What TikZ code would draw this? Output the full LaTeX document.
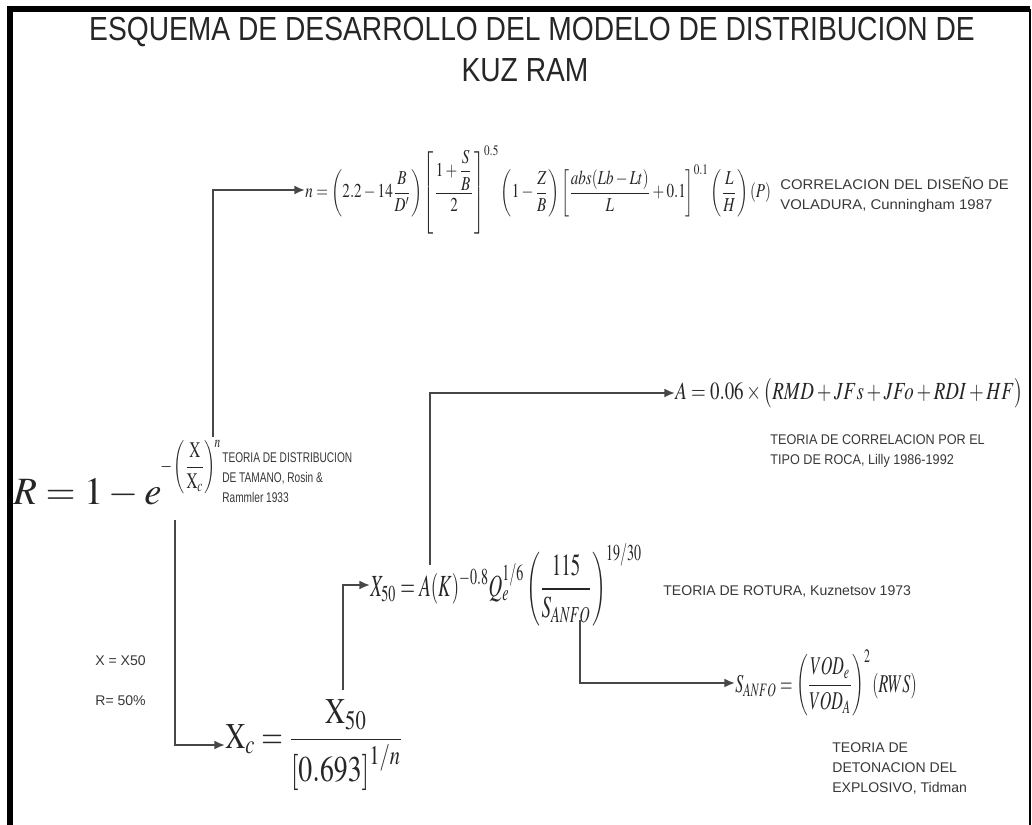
\documentclass[tikz,border=0pt]{standalone}
\usepackage{amsmath}
\usepackage{mathptmx}
\usepackage[no-math]{fontspec}
\setmainfont{Liberation Sans}
\usetikzlibrary{arrows.meta}
\newcommand{\lbltext}[2]{\scalebox{#1}[1]{\begin{tabular}{@{}l@{}}#2\end{tabular}}}
\begin{document}
\begin{tikzpicture}[x=0.02cm,y=-0.02cm,
  lbl/.style={font=\fontsize{8}{11.5}\selectfont, text=black!78, inner sep=0, anchor=north west},
  conn/.style={line width=1.1pt, draw=black!72},
  arr/.style={conn, -{Latex[length=6pt,width=5pt]}},
  eq/.style={inner sep=0, anchor=west, text=black!85},
  ttl/.style={inner sep=0, text=black!85, font=\fontsize{19}{19}\selectfont}]
\useasboundingbox (0,0) rectangle (1032,825);
\fill[white] (0,0) rectangle (1032,825);
% frame
\draw[line width=3pt] (10,825) -- (10,9) -- (1030,9);
\draw[line width=1.5pt] (1030,9) -- (1030,825);
% title
\node[ttl] (t1) at (532,32) {\scalebox{0.845}[1]{ESQUEMA DE DESARROLLO DEL MODELO DE DISTRIBUCION DE}};
\node[ttl] (t2) at (525,70) {\scalebox{0.845}[1]{KUZ RAM}};
% main equation
\node[eq, font=\fontsize{22}{22}\selectfont] (req) at (13,493) {$R=1-e$};
\node[eq, font=\fontsize{12}{12}\selectfont] (rexp) at (160,467) {\scalebox{0.72}[1.05]{$\displaystyle -\left(\frac{\mathrm{X}}{\mathrm{X}_c}\right)^{\!n}$}};
\node[lbl] (l1) at (222,448) {\lbltext{0.72}{TEORIA DE DISTRIBUCION\\DE TAMANO, Rosin \&\\Rammler 1933}};
% n equation
\node[eq, font=\fontsize{10}{10}\selectfont] (neq) at (305,190) {\scalebox{0.86}[1.12]{$\displaystyle n=\left(2.2-14\frac{B}{D'}\right)\left[\frac{1+\dfrac{S}{B}}{2}\right]^{0.5}\left(1-\frac{Z}{B}\right)\left[\frac{abs(Lb-Lt)}{L}+0.1\right]^{0.1}\left(\frac{L}{H}\right)(P)$}};
\node[lbl] (l2) at (780,175) {\lbltext{1.06}{CORRELACION DEL DISEÑO DE\\VOLADURA, Cunningham 1987}};
% Xc equation
\node[eq, font=\fontsize{20}{20}\selectfont] (xceq) at (225,745) {\scalebox{0.79}[1.03]{$\displaystyle \mathrm{X}_c=\frac{\mathrm{X}_{50}}{\left[0.693\right]^{1/n}}$}};
\node[lbl] (l3) at (95,655) {X = X50};
\node[lbl] (l4) at (95,695) {R= 50\%};
% X50 equation
\node[eq, font=\fontsize{14}{14}\selectfont] (x50eq) at (370,585) {\scalebox{0.77}[1.25]{$\displaystyle X_{50}=A(K)^{-0.8}Q_e^{1/6}\left(\frac{115}{S_{ANFO}}\right)^{19/30}$}};
\node[lbl] (l5) at (663,581) {\lbltext{1}{TEORIA DE ROTURA, Kuznetsov 1973}};
% A equation
\node[eq, font=\fontsize{14}{14}\selectfont] (aeq) at (675,393) {\scalebox{0.77}[1]{$A=0.06\times\bigl(RMD+JFs+JFo+RDI+HF\bigr)$}};
\node[lbl] (l6) at (770,430) {\lbltext{0.9}{TEORIA DE CORRELACION POR EL\\TIPO DE ROCA, Lilly 1986-1992}};
% S_ANFO equation
\node[eq, font=\fontsize{13}{13}\selectfont] (seq) at (735,683) {\scalebox{0.7}[1.12]{$\displaystyle S_{ANFO}=\left(\frac{VOD_e}{VOD_A}\right)^{2}(RWS)$}};
\node[lbl] (l7) at (832,738) {\lbltext{1}{TEORIA DE\\DETONACION DEL\\EXPLOSIVO, Tidman}};
% connectors
\coordinate (p1) at (213,437);
\coordinate (p2) at (175,520);
\coordinate (p3) at (343,690);
\coordinate (p4) at (430,565);
\coordinate (p5) at (580,620);
\draw[arr] (p1) |- (neq.west);
\draw[arr] (p2) |- (xceq.west);
\draw[arr] (p3) |- (x50eq.west);
\draw[arr] (p4) |- (aeq.west);
\draw[arr] (p5) |- (seq.west);
\end{tikzpicture}
\end{document}
